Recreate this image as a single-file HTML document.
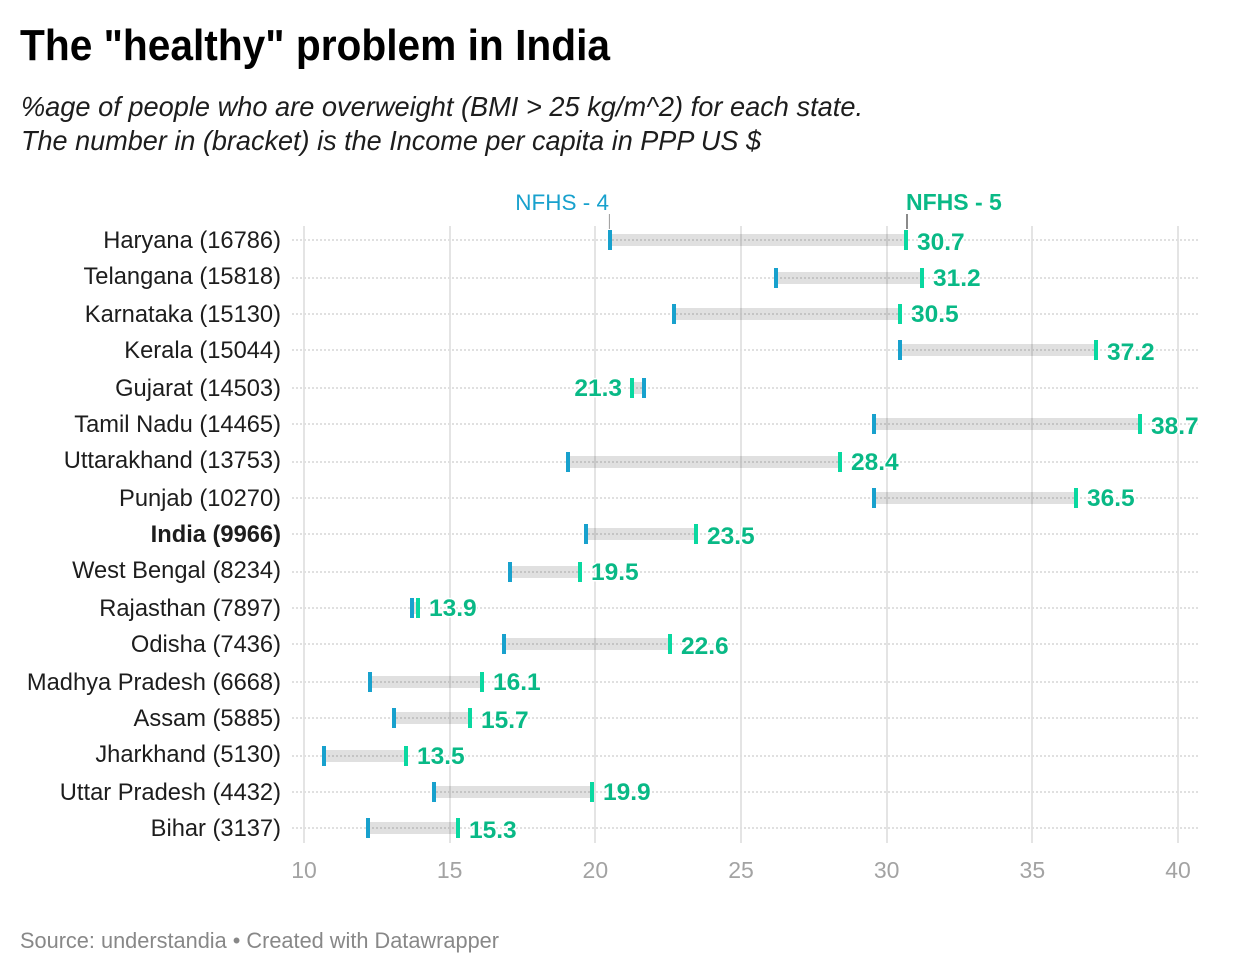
<!DOCTYPE html>
<html lang="en">
<head>
<meta charset="utf-8">
<title>The "healthy" problem in India</title>
<style>
html,body{margin:0;padding:0;background:#fff;width:1240px;height:974px;overflow:hidden}
svg{display:block;font-family:"Liberation Sans",sans-serif}
</style>
</head>
<body>
<svg id="chart" xmlns="http://www.w3.org/2000/svg" width="1240" height="974" viewBox="0 0 1240 974">
<text x="20" y="60" font-size="44" font-weight="700" fill="#000" textLength="590" lengthAdjust="spacingAndGlyphs">The "healthy" problem in India</text>
<text x="21" y="116" font-size="28" font-style="italic" fill="#1d1d1d" textLength="842" lengthAdjust="spacingAndGlyphs">%age of people who are overweight (BMI &gt; 25 kg/m^2) for each state.</text>
<text x="21" y="150" font-size="28" font-style="italic" fill="#1d1d1d" textLength="740" lengthAdjust="spacingAndGlyphs">The number in (bracket) is the Income per capita in PPP US $</text>
<g id="plot"></g>
<text x="20" y="948" font-size="22" fill="#888" textLength="479" lengthAdjust="spacingAndGlyphs">Source: understandia • Created with Datawrapper</text>
</svg>
<script>
const states = ["Haryana (16786)","Telangana (15818)","Karnataka (15130)","Kerala (15044)","Gujarat (14503)","Tamil Nadu (14465)","Uttarakhand (13753)","Punjab (10270)","India (9966)","West Bengal (8234)","Rajasthan (7897)","Odisha (7436)","Madhya Pradesh (6668)","Assam (5885)","Jharkhand (5130)","Uttar Pradesh (4432)","Bihar (3137)"];
const nfhs4 = [20.5,26.2,22.7,30.5,21.7,29.6,19.1,29.6,19.7,17.1,13.7,16.9,12.3,13.1,10.7,14.5,12.2];
const nfhs5 = [30.7,31.2,30.5,37.2,21.3,38.7,28.4,36.5,23.5,19.5,13.9,22.6,16.1,15.7,13.5,19.9,15.3];
const xTicks = [10,15,20,25,30,35,40];
const seriesNames = ["NFHS - 4","NFHS - 5"];

const NS = "http://www.w3.org/2000/svg";
const plot = document.getElementById("plot");
const even = v => 2 * Math.round(v / 2);
const x = v => 304 + (v - 10) * (1178 - 304) / 30;
const rawY = i => 240 + i * (828 - 240) / (states.length - 1);
const y = i => even(rawY(i) + 0.6);
const markX = v => even(x(v) - 2.6);

function add(tag, attrs, text) {
  const el = document.createElementNS(NS, tag);
  for (const k in attrs) el.setAttribute(k, attrs[k]);
  if (text !== undefined) el.textContent = text;
  plot.appendChild(el);
  return el;
}

xTicks.forEach(t => {
  const gx = Math.round(x(t));
  const grid = add("line", {x1:gx, x2:gx, y1:226, y2:843, stroke:"#e4e4e4", "stroke-width":2});
  
  
  const lab = add("text", {x:x(t), y:878, "text-anchor":"middle", "font-size":23, fill:"#a3a3a3"}, String(t));
  
  
});

states.forEach((s, i) => {
  const row = add("line", {x1:292, x2:1198, y1:y(i), y2:y(i), stroke:"#e0e0e0", "stroke-width":2, "stroke-dasharray":"2 2"});
  
  
});

states.forEach((s, i) => {
  const a = markX(nfhs4[i]), b = markX(nfhs5[i]);
  const isIndia = s.indexOf("India") === 0;
  const lab = add("text", {x:281, y:even(rawY(i)) + 8, "text-anchor":"end", "font-size":23.7, fill:"#1d1d1d", "font-weight":isIndia ? 700 : 400}, s);
  
  

  const bar = add("rect", {x:Math.min(a, b) + 2, y:y(i) - 6, width:Math.abs(b - a), height:12, fill:"#000", "fill-opacity":0.12});
  
  

  const m4 = add("rect", {x:a, y:y(i) - 10, width:4, height:20, fill:"#18a1cd"});
  
  

  const m5 = add("rect", {x:b, y:y(i) - 10, width:4, height:20, fill:"#09d8a0"});
  
  

  const right = nfhs5[i] >= nfhs4[i];
  const val = add("text", {x:right ? b + 13 : b - 8, y:even(rawY(i) + 1.3) + 8, "text-anchor":right ? "start" : "end", "font-size":24.5, "font-weight":700, fill:"#09b986", stroke:"#fff", "stroke-width":3, "paint-order":"stroke", "stroke-linejoin":"round"}, nfhs5[i].toFixed(1));
  
  
});

const h4 = add("line", {x1:x(nfhs4[0]) - 0.5, x2:x(nfhs4[0]) - 0.5, y1:214, y2:229, stroke:"#9a9a9a", "stroke-width":1});


const h5 = add("line", {x1:907, x2:907, y1:214, y2:229, stroke:"#8a8a8a", "stroke-width":2});



const s4 = add("text", {x:609, y:210, "text-anchor":"end", "font-size":22.5, fill:"#18a1cd"}, seriesNames[0]);


const s5 = add("text", {x:906, y:210, "text-anchor":"start", "font-size":23, "font-weight":700, fill:"#09b986"}, seriesNames[1]);


</script>
</body>
</html>
